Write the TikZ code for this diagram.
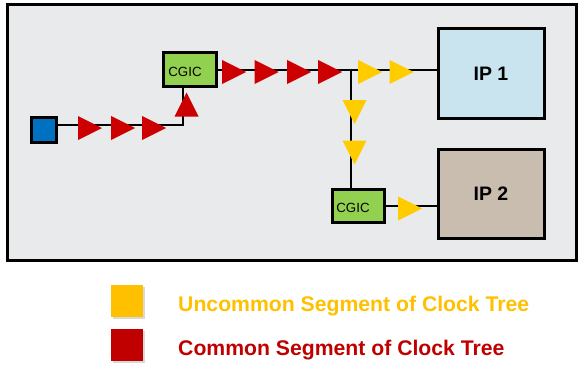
\documentclass[tikz,border=0pt]{standalone}
\usepackage{fontspec}
\setmainfont{Liberation Sans}
\usetikzlibrary{shadows}
\definecolor{bgchip}{HTML}{E9EAEC}
\definecolor{srcblue}{HTML}{0070C0}
\definecolor{cgicgreen}{HTML}{92D050}
\definecolor{ipblue}{HTML}{C9E4EF}
\definecolor{iptan}{HTML}{C9BDAF}
\definecolor{trired}{HTML}{CC0000}
\definecolor{triyellow}{HTML}{FFCC00}
\definecolor{legyellow}{HTML}{FFC000}
\definecolor{legred}{HTML}{C00000}
\tikzset{
  x=1pt, y=-1pt,
  softshadow/.style={drop shadow={shadow xshift=1.5pt, shadow yshift=-1.5pt, opacity=0.25, fill=black!60}},
  box/.style={draw=black, line width=3pt, inner sep=0pt, softshadow},
  chipbox/.style={box, fill=bgchip, minimum width=569pt, minimum height=255pt},
  srcbox/.style={box, fill=srcblue, minimum width=25pt, minimum height=25pt},
  cgicbox/.style={box, fill=cgicgreen, minimum width=52pt, minimum height=33pt},
  ipbox/.style={box, minimum width=106pt, minimum height=89pt, font=\fontsize{19.5}{21}\selectfont\bfseries},
  cgictext/.style={inner sep=0pt, font=\fontsize{13.3}{15}\selectfont},
  wire/.style={draw=black, line width=2pt},
  legsq/.style={inner sep=0pt, minimum width=32pt, minimum height=32pt, softshadow},
  legtext/.style={anchor=base west, inner sep=0pt, font=\fontsize{21.2}{24}\selectfont\bfseries},
  tri/.pic={\fill[pic actions] (12,0) -- (-12,12) -- (-12,-12) -- cycle;},
  redtri/.style={fill=trired},
  yeltri/.style={fill=triyellow}
}
\begin{document}
\begin{tikzpicture}
\useasboundingbox (0,0) rectangle (583,369);
% chip outline
\node[chipbox] (chip) at (291.5,132.5) {};
% blocks
\node[srcbox] (src) at (43.5,129.5) {};
\node[cgicbox, minimum width=53pt] (cgic1) at (189.5,69.5) {};
\node[cgictext] (cgic1t) at (185,72) {CGIC};
\node[cgicbox] (cgic2) at (358,205.5) {};
\node[cgictext] (cgic2t) at (353,208) {CGIC};
\node[ipbox, fill=ipblue] (ip1) at (491,73.5) {IP 1};
\node[ipbox, fill=iptan] (ip2) at (491,193.5) {IP 2};
% wires
\coordinate (bend) at (183,125);
\coordinate (junc) at (351,69.5);
\draw[wire] (src.east |- bend) -- (bend) -- (bend |- cgic1.south);
\draw[wire] (cgic1.east) -- (cgic1.east -| ip1.west);
\draw[wire] (junc) -- (junc |- cgic2.north);
\draw[wire] (cgic2.east) -- (cgic2.east -| ip2.west);
% red triangles (common segment)
\pic[redtri] at (90,128) {tri};
\pic[redtri] at (123,128) {tri};
\pic[redtri] at (154,128) {tri};
\pic[redtri, rotate=90] at (186.5,104.5) {tri};
\pic[redtri] at (234,72) {tri};
\pic[redtri] at (266.5,72) {tri};
\pic[redtri] at (299,72) {tri};
\pic[redtri] at (330,72) {tri};
% yellow triangles (uncommon segment)
\pic[yeltri] at (370,72) {tri};
\pic[yeltri] at (401.5,72) {tri};
\pic[yeltri, rotate=-90] at (354.5,112) {tri};
\pic[yeltri, rotate=-90] at (354.5,152.5) {tri};
\pic[yeltri] at (410,208.5) {tri};
% legend
\node[legsq, fill=legyellow] (legy) at (127,301) {};
\node[legsq, fill=legred] (legr) at (127,345) {};
\node[legtext, text=legyellow] (legyt) at (178,311.5) {Uncommon Segment of Clock Tree};
\node[legtext, text=legred] (legrt) at (178,355) {Common Segment of Clock Tree};
\end{tikzpicture}
\end{document}
